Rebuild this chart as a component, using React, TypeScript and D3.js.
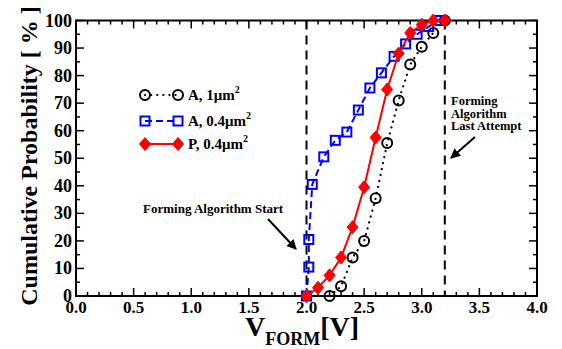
import React from "react";
import * as d3 from "d3";

const circleV = [2.2, 2.3, 2.4, 2.5, 2.6, 2.7, 2.8, 2.9, 3.0, 3.1, 3.2];
const circleP = [0, 3.5, 14, 20, 35.5, 55.5, 71, 84, 90.5, 95.5, 100];

const squareV = [2.0, 2.02, 2.02, 2.05, 2.15, 2.25, 2.35, 2.45, 2.55, 2.65, 2.76, 2.86, 2.96, 3.06, 3.15];
const squareP = [0, 10.5, 20.5, 40.5, 50.5, 56.5, 59.5, 67.5, 75.5, 81, 87, 91.5, 95, 97.8, 100];

const diamondV = [2.0, 2.1, 2.2, 2.3, 2.4, 2.5, 2.6, 2.7, 2.8, 2.9, 3.0, 3.1, 3.2];
const diamondP = [0, 3, 7.5, 14, 25, 39.5, 57.5, 75, 88, 95.5, 98.5, 100, 100];

const xTicks = [0, 0.5, 1.0, 1.5, 2.0, 2.5, 3.0, 3.5, 4.0];
const yTicks = [0, 10, 20, 30, 40, 50, 60, 70, 80, 90, 100];
const markerLines = [2.0, 3.2];

const FONT = "'Liberation Serif', 'Times New Roman', serif";

export default function App() {
  const left = 76, right = 537, top = 20.5, bottom = 296;
  const x = d3.scaleLinear().domain([0, 4]).range([left, right]);
  const y = d3.scaleLinear().domain([0, 100]).range([bottom, top]);

  const toPts = (vs: number[], ps: number[]) => vs.map((v, i) => [v, ps[i]] as [number, number]);
  const line = d3.line<[number, number]>().x(d => x(d[0])).y(d => y(d[1]));

  const circles = toPts(circleV, circleP);
  const squares = toPts(squareV, squareP);
  const diamonds = toPts(diamondV, diamondP);

  const minorX = d3.range(0, 41).map(i => i / 10);
  const minorY = d3.range(0, 21).map(i => i * 5);

  const diamondPath = (cx: number, cy: number, r = 6.5) =>
    `M${cx},${cy - r}L${cx + r * 0.85},${cy}L${cx},${cy + r}L${cx - r * 0.85},${cy}Z`;

  return (
    <svg width={562} height={349} style={{ position: "absolute", left: 0, top: 0, background: "#fff" }} fontFamily={FONT}>
      {/* ticks */}
      {minorX.map((v, i) => {
        const major = i % 5 === 0;
        const len = major ? 8 : 4;
        return (
          <g key={"xt" + i} stroke="#000" strokeWidth={1.5}>
            <line x1={x(v)} x2={x(v)} y1={bottom} y2={bottom - len} />
            <line x1={x(v)} x2={x(v)} y1={top} y2={top + len} />
          </g>
        );
      })}
      {minorY.map((v, i) => {
        const major = i % 2 === 0;
        const len = major ? 8 : 4;
        return (
          <g key={"yt" + i} stroke="#000" strokeWidth={1.5}>
            <line x1={left} x2={left + len} y1={y(v)} y2={y(v)} />
            <line x1={right} x2={right - len} y1={y(v)} y2={y(v)} />
          </g>
        );
      })}
      <rect x={left} y={top} width={right - left} height={bottom - top} fill="none" stroke="#000" strokeWidth={2} />

      {/* tick labels */}
      {xTicks.map(v => (
        <text key={"xl" + v} x={x(v)} y={313} textAnchor="middle" fontSize={17} fontWeight="bold">
          {v.toFixed(1)}
        </text>
      ))}
      {yTicks.map(v => (
        <text key={"yl" + v} x={72} y={y(v) + 6} textAnchor="end" fontSize={18} fontWeight="bold">
          {v}
        </text>
      ))}

      {/* axis titles */}
      <text transform={`translate(37,156) rotate(-90)`} textAnchor="middle" fontSize={24} fontWeight="bold">
        Cumulative Probability [ % ]
      </text>
      <text x={245} y={336} fontSize={28} fontWeight="bold">
        V<tspan fontSize={18} dy={9}>FORM</tspan><tspan fontSize={28} dy={-9}>[V]</tspan>
      </text>

      {/* dashed reference lines */}
      {markerLines.map(v => (
        <line key={"ml" + v} x1={x(v)} x2={x(v)} y1={top} y2={bottom} stroke="#000" strokeWidth={2} strokeDasharray="9,6" />
      ))}

      {/* series: A, 1um2 */}
      <path d={line(circles) || ""} fill="none" stroke="#000" strokeWidth={2.2} strokeDasharray="0.1,6" strokeLinecap="round" />
      {circles.map((d, i) => (
        <circle key={"c" + i} cx={x(d[0])} cy={y(d[1])} r={5} fill="none" stroke="#000" strokeWidth={2} />
      ))}

      {/* series: A, 0.4um2 */}
      <path d={line(squares) || ""} fill="none" stroke="#0000ff" strokeWidth={2} strokeDasharray="7,4" />
      {squares.map((d, i) => (
        <rect key={"s" + i} x={x(d[0]) - 4.5} y={y(d[1]) - 4.5} width={9} height={9} fill="none" stroke="#0000ff" strokeWidth={2} />
      ))}

      {/* series: P, 0.4um2 */}
      <path d={line(diamonds) || ""} fill="none" stroke="#ff0000" strokeWidth={2} />
      {diamonds.map((d, i) => (
        <path key={"d" + i} d={diamondPath(x(d[0]), y(d[1]))} fill="#ff0000" stroke="#ff0000" strokeWidth={1} />
      ))}

      {/* legend */}
      <g>
        <line x1={145} x2={178} y1={95} y2={95} stroke="#000" strokeWidth={2.2} strokeDasharray="0.1,6" strokeLinecap="round" />
        <circle cx={145} cy={95} r={5} fill="none" stroke="#000" strokeWidth={2} />
        <circle cx={178} cy={95} r={5} fill="none" stroke="#000" strokeWidth={2} />
        <text x={188} y={100} fontSize={15} fontWeight="bold">A, 1μm<tspan fontSize={10} dy={-7}>2</tspan></text>

        <line x1={145} x2={178} y1={121} y2={121} stroke="#0000ff" strokeWidth={2} strokeDasharray="7,4" />
        <rect x={140.5} y={116.5} width={9} height={9} fill="none" stroke="#0000ff" strokeWidth={2} />
        <rect x={173.5} y={116.5} width={9} height={9} fill="none" stroke="#0000ff" strokeWidth={2} />
        <text x={188} y={126} fontSize={15} fontWeight="bold">A, 0.4μm<tspan fontSize={10} dy={-7}>2</tspan></text>

        <line x1={145} x2={178} y1={144} y2={144} stroke="#ff0000" strokeWidth={2} />
        <path d={diamondPath(145, 144)} fill="#ff0000" stroke="#ff0000" />
        <path d={diamondPath(178, 144)} fill="#ff0000" stroke="#ff0000" />
        <text x={188} y={149} fontSize={15} fontWeight="bold">P, 0.4μm<tspan fontSize={10} dy={-7}>2</tspan></text>
      </g>

      {/* annotations */}
      <defs>
        <marker id="arrow" viewBox="0 0 10 10" refX={9} refY={5} markerWidth={5} markerHeight={5} orient="auto">
          <path d="M0,0L10,5L0,10Z" fill="#000" />
        </marker>
      </defs>
      <text x={143} y={213} fontSize={13} fontWeight="bold">Forming Algorithm Start</text>
      <line x1={268} y1={219} x2={296} y2={249} stroke="#000" strokeWidth={2} markerEnd="url(#arrow)" />

      <text x={451} y={105} fontSize={12.5} fontWeight="bold">Forming</text>
      <text x={451} y={117.5} fontSize={12.5} fontWeight="bold">Algorithm</text>
      <text x={451} y={130} fontSize={12.5} fontWeight="bold">Last Attempt</text>
      <line x1={475} y1={137} x2={451} y2={158} stroke="#000" strokeWidth={2} markerEnd="url(#arrow)" />
    </svg>
  );
}
